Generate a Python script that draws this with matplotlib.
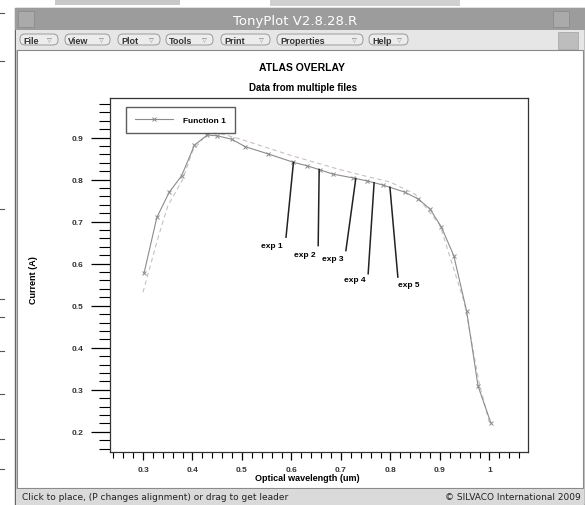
import numpy as np
import matplotlib.pyplot as plt
from matplotlib.patches import Rectangle, FancyBboxPatch
from matplotlib.ticker import MultipleLocator

W, H = 585, 506
FONT = "Liberation Sans"

# Function 1 (solid line, x markers)
wavelength = [0.302, 0.328, 0.353, 0.378, 0.404, 0.430, 0.450, 0.479, 0.507, 0.553,
              0.604, 0.631, 0.658, 0.684, 0.724, 0.752, 0.785, 0.829, 0.856, 0.880,
              0.903, 0.928, 0.954, 0.977, 1.003]
current = [0.577, 0.710, 0.770, 0.809, 0.882, 0.906, 0.904, 0.896, 0.878, 0.861,
           0.841, 0.833, 0.823, 0.813, 0.804, 0.797, 0.787, 0.770, 0.754, 0.730,
           0.687, 0.619, 0.487, 0.309, 0.221]

# second file (dashed)
wavelength_2 = [0.300, 0.330, 0.350, 0.380, 0.400, 0.430, 0.450, 0.500, 0.550, 0.600,
                0.650, 0.700, 0.750, 0.800, 0.850, 0.900, 0.950, 0.980, 1.000]
current_2 = [0.532, 0.660, 0.737, 0.800, 0.868, 0.910, 0.912, 0.895, 0.876, 0.857,
             0.840, 0.823, 0.808, 0.794, 0.765, 0.692, 0.505, 0.312, 0.222]

# exp labels with leaders
exp_labels = ["exp 1", "exp 2", "exp 3", "exp 4", "exp 5"]
exp_x = [0.604, 0.656, 0.730, 0.767, 0.799]
exp_end_x = [0.589, 0.654, 0.710, 0.755, 0.815]
exp_end_y = [0.663, 0.643, 0.631, 0.576, 0.568]
exp_text_x = [0.560, 0.627, 0.683, 0.728, 0.837]
exp_text_y = [0.643, 0.621, 0.613, 0.562, 0.550]

x_ticks = [0.3, 0.4, 0.5, 0.6, 0.7, 0.8, 0.9, 1.0]
x_ticklabels = ["0.3", "0.4", "0.5", "0.6", "0.7", "0.8", "0.9", "1"]
y_ticks = [0.2, 0.3, 0.4, 0.5, 0.6, 0.7, 0.8, 0.9]

menu_items = ["File", "View", "Plot", "Tools", "Print", "Properties", "Help"]
menu_left = [20, 65, 118, 166, 221, 277, 369]
menu_right = [58, 110, 160, 213, 270, 363, 408]

fig = plt.figure(figsize=(W / 100, H / 100), dpi=100)
fig.patch.set_facecolor("white")

# window chrome, drawn in pixel units
bg = fig.add_axes([0, 0, 1, 1])
bg.set_xlim(0, W)
bg.set_ylim(H, 0)
bg.axis("off")

bg.add_patch(Rectangle((55, 1), 125, 5, color="#c8c8c8", lw=0))
bg.add_patch(Rectangle((270, 0), 190, 7, color="#d0d0d0", lw=0))
for yy in [14, 62, 210, 300, 318, 352, 395, 440, 470]:
    bg.plot([0, 4], [yy, yy], color="#555555", lw=0.8)

bg.add_patch(Rectangle((15, 9), W - 15, H - 9, facecolor="#d6d6d6", edgecolor="#666666", lw=1))
# title bar
bg.add_patch(Rectangle((15, 9), W - 15, 22, facecolor="#9c9c9c", lw=0))
bg.add_patch(Rectangle((18, 12), 16, 16, facecolor="#aaaaaa", edgecolor="#8c8c8c", lw=0.6))
bg.add_patch(Rectangle((553, 12), 16, 16, facecolor="#aaaaaa", edgecolor="#8c8c8c", lw=0.6))
bg.text(295, 21, "TonyPlot V2.8.28.R", color="white", fontsize=9.5,
        family="DejaVu Sans", ha="center", va="center")
# menu bar
bg.add_patch(Rectangle((16, 31), W - 17, 20, facecolor="#e6e6e6", lw=0))
for name, l, r in zip(menu_items, menu_left, menu_right):
    bg.add_patch(FancyBboxPatch((l, 35), r - l, 11,
                                boxstyle="round,pad=0,rounding_size=5",
                                facecolor="#ececec", edgecolor="#9a9a9a", lw=0.7))
    bg.text(l + 3, 41, name, fontsize=6.5, weight="bold", family=FONT,
            color="#333333", va="center")
    bg.text(r - 9, 40.5, "\u25bd", fontsize=4.5, family="DejaVu Sans",
            color="#777777", va="center", ha="center")
bg.add_patch(Rectangle((558, 33), 20, 17, facecolor="#bdbdbd", edgecolor="#aaaaaa", lw=0.6))
# plot panel
bg.add_patch(Rectangle((17, 51), W - 19, 438, facecolor="white", edgecolor="#8a8a8a", lw=0.8))
# status bar
bg.add_patch(Rectangle((16, 490), W - 17, 16, facecolor="#dadada", lw=0))
bg.text(22, 498, "Click to place, (P changes alignment) or drag to get leader",
        fontsize=6.5, family="DejaVu Sans", color="#222222", va="center")
bg.text(581, 498, "\u00a9 SILVACO International 2009", fontsize=6.5,
        family="DejaVu Sans", color="#222222", va="center", ha="right")

# titles
bg.text(302, 68, "ATLAS OVERLAY", fontsize=7.5, weight="bold", family=FONT,
        ha="center", va="center")
bg.text(303, 88, "Data from multiple files", fontsize=7, weight="bold", family=FONT,
        ha="center", va="center")
bg.text(307, 479, "Optical wavelength (um)", fontsize=6.5, weight="bold", family=FONT,
        ha="center", va="center")
bg.text(33, 280, "Current (A)", fontsize=6.5, weight="bold", family=FONT,
        ha="center", va="center", rotation=90)

# plot axes
ax = fig.add_axes([110 / W, 1 - 453 / H, 418 / W, 354 / H])
ax.set_xlim(0.2333, 1.078)
ax.set_ylim(0.152, 0.994)

ax.plot(wavelength_2, current_2, color="#cbbfbf", lw=0.8, ls=(0, (4, 3)))
ax.plot(wavelength, current, color="#8c8c8c", lw=0.8, marker="x", ms=3,
        mew=0.7, label="Function 1")

curve_y = np.interp(exp_x, wavelength, current)
for lab, x0, y0, x1, y1, tx, ty in zip(exp_labels, exp_x, curve_y, exp_end_x,
                                       exp_end_y, exp_text_x, exp_text_y):
    ax.plot([x0, x1], [y0, y1], color="#222222", lw=1.1)
    ax.text(tx, ty, lab, fontsize=6, weight="bold", family=FONT,
            ha="center", va="center")

ax.set_xticks(x_ticks)
ax.set_xticklabels(x_ticklabels)
ax.set_yticks(y_ticks)
ax.xaxis.set_minor_locator(MultipleLocator(0.02))
ax.yaxis.set_minor_locator(MultipleLocator(0.02))
ax.tick_params(axis="x", which="major", direction="out", length=6, width=0.9, pad=4)
ax.tick_params(axis="x", which="minor", direction="out", length=4, width=0.8)
ax.tick_params(axis="y", which="major", direction="out", length=14, width=0.9, pad=5)
ax.tick_params(axis="y", which="minor", direction="out", length=8, width=0.8)
for t in ax.get_xticklabels() + ax.get_yticklabels():
    t.set_fontsize(6)
    t.set_fontweight("bold")
    t.set_family(FONT)
    t.set_color("#333333")
for s in ax.spines.values():
    s.set_linewidth(0.9)
    s.set_color("#333333")

leg = ax.legend(loc="upper left", bbox_to_anchor=(12 / 418, 1 - 5 / 354),
                prop={"family": FONT, "weight": "bold", "size": 6},
                frameon=True, fancybox=False, handlelength=4.5, borderpad=1.1,
                handletextpad=1.2)
leg.get_frame().set_edgecolor("#333333")
leg.get_frame().set_linewidth(1.0)

fig.savefig("out.png", dpi=100)
